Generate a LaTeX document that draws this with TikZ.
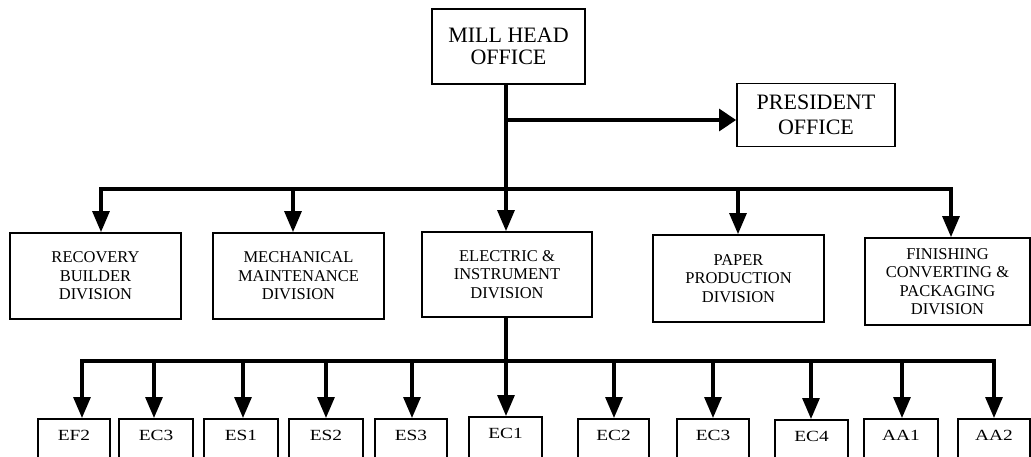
\documentclass[tikz,border=0pt]{standalone}
\usepackage{fontspec}
\setmainfont{Liberation Serif}
\newfontfamily\codefont[FakeStretch=1.25]{Liberation Serif}
\usetikzlibrary{arrows.meta}
\begin{document}
\begin{tikzpicture}[x=1pt,y=-1pt,
  box/.style={draw, line width=1.8pt, inner sep=0pt, align=center},
  topbox/.style={box, font=\fontsize{22}{22}\selectfont},
  divbox/.style={box, font=\fontsize{16.5}{18.5}\selectfont},
  codebox/.style={box, font={\codefont\fontsize{15.5}{15.5}\selectfont}, anchor=north, text height=22pt, text depth=30pt},
  conn/.style={line width=3.1pt},
  arr/.style={conn, -{Triangle[length=21pt,width=17pt]}},
  sidearr/.style={conn, -{Triangle[length=17pt,width=22pt]}}]
\useasboundingbox (0,0) rectangle (1031,456);
\fill[white] (0,0) rectangle (1031,456);
\clip (0,0) rectangle (1031,456);

% top level
\node[topbox, minimum width=153pt, minimum height=75pt] (mill) at (508.5,46.5) {MILL HEAD\\OFFICE};
\node[topbox, minimum width=158pt, minimum height=63pt, font=\fontsize{22}{25}\selectfont] (pres) at (816,115) {PRESIDENT\\OFFICE};

% divisions
\node[divbox, minimum width=171pt, minimum height=86pt] (rec) at (95.5,276) {RECOVERY\\BUILDER\\DIVISION};
\node[divbox, minimum width=171pt, minimum height=86pt] (mech) at (298.5,276) {MECHANICAL\\MAINTENANCE\\DIVISION};
\node[divbox, minimum width=170pt, minimum height=85pt] (elec) at (507,274.5) {ELECTRIC \&\\INSTRUMENT\\DIVISION};
\node[divbox, minimum width=171pt, minimum height=87pt] (paper) at (738.5,278.5) {PAPER\\PRODUCTION\\DIVISION};
\node[divbox, minimum width=165pt, minimum height=87pt] (fin) at (947.5,281.5) {FINISHING\\CONVERTING \&\\PACKAGING\\DIVISION};

% units
\node[codebox, minimum width=72pt] (ef2) at (74,418) {EF2};
\node[codebox, minimum width=74pt] (ec3a) at (156,418) {EC3};
\node[codebox, minimum width=74pt] (es1) at (241,418) {ES1};
\node[codebox, minimum width=74pt] (es2) at (326,418) {ES2};
\node[codebox, minimum width=72pt] (es3) at (411,418) {ES3};
\node[codebox, minimum width=73pt] (ec1) at (505.5,416) {EC1};
\node[codebox, minimum width=71pt] (ec2) at (613.5,418) {EC2};
\node[codebox, minimum width=72pt] (ec3b) at (713,418) {EC3};
\node[codebox, minimum width=73pt] (ec4) at (811.5,419) {EC4};
\node[codebox, minimum width=74pt] (aa1) at (901,418) {AA1};
\node[codebox, minimum width=72pt] (aa2) at (994,418) {AA2};

% bus coordinates
\coordinate (pj) at (506,120);
\coordinate (d1) at (101,189);
\coordinate (d2) at (293,189);
\coordinate (d3) at (506,189);
\coordinate (d4) at (738,189);
\coordinate (d5) at (951,189);
\coordinate (c1) at (82,361);
\coordinate (c2) at (154,361);
\coordinate (c3) at (243,361);
\coordinate (c4) at (326,361);
\coordinate (c5) at (412,361);
\coordinate (c6) at (506,361);
\coordinate (c7) at (614,361);
\coordinate (c8) at (713,361);
\coordinate (c9) at (811,361);
\coordinate (c10) at (902,361);
\coordinate (c11) at (994,361);

% connectors
\draw[conn] (d3 |- mill.south) -- (d3);
\draw[sidearr] (pj) -- (pj -| pres.west);
\draw[conn, line cap=rect] (d1) -- (d5);
\draw[arr] (d1) -- (d1 |- rec.north);
\draw[arr] (d2) -- (d2 |- mech.north);
\draw[arr] (d3) -- (d3 |- elec.north);
\draw[arr] (d4) -- (d4 |- paper.north);
\draw[arr] (d5) -- (d5 |- fin.north);

\draw[conn] (c6 |- elec.south) -- (c6);
\draw[conn, line cap=rect] (c1) -- (c11);
\draw[arr] (c1) -- (c1 |- ef2.north);
\draw[arr] (c2) -- (c2 |- ec3a.north);
\draw[arr] (c3) -- (c3 |- es1.north);
\draw[arr] (c4) -- (c4 |- es2.north);
\draw[arr] (c5) -- (c5 |- es3.north);
\draw[arr] (c6) -- (c6 |- ec1.north);
\draw[arr] (c7) -- (c7 |- ec2.north);
\draw[arr] (c8) -- (c8 |- ec3b.north);
\draw[arr] (c9) -- (c9 |- ec4.north);
\draw[arr] (c10) -- (c10 |- aa1.north);
\draw[arr] (c11) -- (c11 |- aa2.north);
\end{tikzpicture}
\end{document}
